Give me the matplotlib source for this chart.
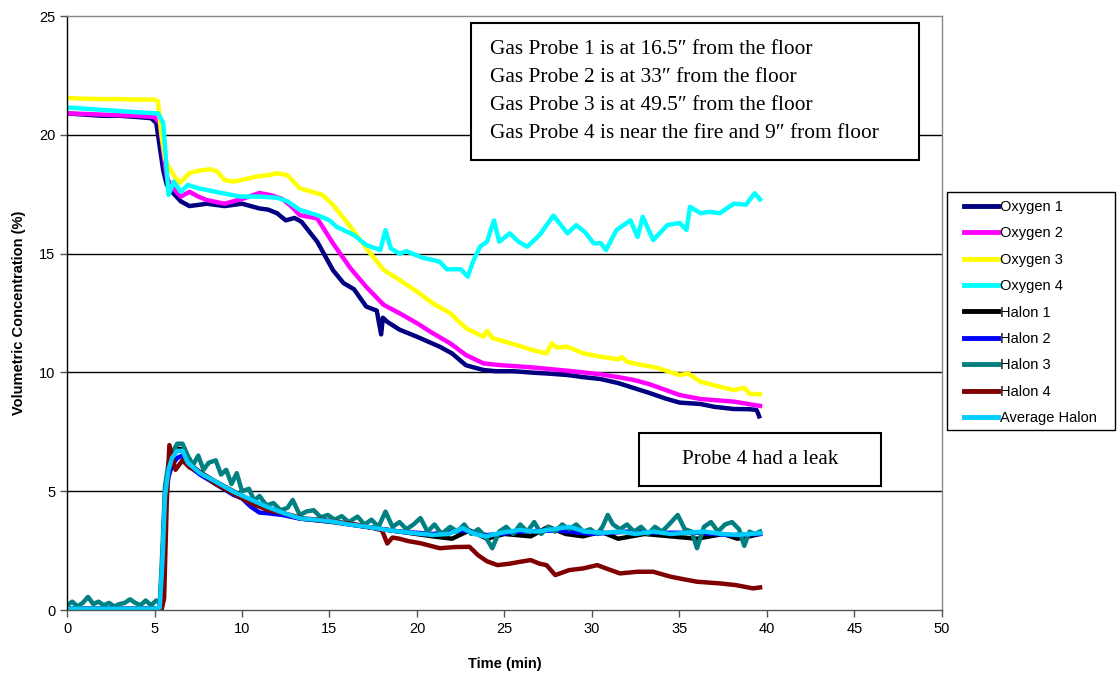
import matplotlib
matplotlib.use("Agg")
import matplotlib.pyplot as plt
from matplotlib.patches import Rectangle

plt.rcParams['font.family'] = ['Liberation Sans', 'DejaVu Sans']

# --- data (time in min, concentration in %) ---
o1_t = [0, 1, 2, 3, 4, 4.8, 5.1, 5.3, 5.5, 5.7, 6.0, 6.5, 7.0, 7.5, 8.0, 9.0, 10.0, 11.0, 11.5, 12.0,
        12.5, 13.0, 13.4, 14.3, 15.2, 15.8, 16.4, 17.1, 17.7, 17.95, 18.05, 18.3, 19.0, 20.0, 21.3, 22.0,
        22.8, 23.8, 24.5, 25.5, 26.6, 27.5, 28.6, 29.5, 30.5, 31.5, 32.4, 33.3, 34.2, 35.0, 36.2, 37.0,
        38.1, 39.0, 39.4, 39.5, 39.55]
o1_v = [20.9, 20.85, 20.8, 20.8, 20.75, 20.7, 20.5, 19.5, 18.5, 17.9, 17.6, 17.2, 17.0, 17.05, 17.1, 17.0,
        17.1, 16.9, 16.85, 16.7, 16.4, 16.5, 16.34, 15.5, 14.3, 13.76, 13.5, 12.77, 12.6, 11.6, 12.3, 12.13,
        11.8, 11.5, 11.08, 10.8, 10.3, 10.1, 10.05, 10.05, 9.99, 9.95, 9.89, 9.8, 9.72, 9.55, 9.34, 9.13,
        8.9, 8.73, 8.67, 8.55, 8.46, 8.45, 8.42, 8.25, 8.15]

o2_t = [0, 1, 2, 3, 4, 5.0, 5.3, 5.5, 5.7, 6.0, 6.5, 7.0, 7.5, 8.0, 9.0, 10.0, 11.0, 11.7, 12.3, 12.8,
        13.3, 14.3, 15.2, 16.2, 17.1, 18.1, 19.0, 20.0, 20.9, 21.9, 22.8, 23.8, 24.7, 26.6, 28.6, 30.5,
        31.5, 32.4, 33.3, 35.0, 36.2, 38.1, 39.6]
o2_v = [20.9, 20.88, 20.85, 20.82, 20.8, 20.75, 20.5, 19.3, 18.2, 17.8, 17.4, 17.6, 17.4, 17.25, 17.1,
        17.3, 17.55, 17.45, 17.3, 17.0, 16.62, 16.48, 15.43, 14.38, 13.6, 12.84, 12.49, 12.07, 11.65,
        11.22, 10.73, 10.38, 10.31, 10.21, 10.07, 9.92, 9.8, 9.68, 9.5, 9.05, 8.88, 8.77, 8.59]

o3_t = [0, 1, 2, 3, 4, 5.0, 5.2, 5.4, 5.6, 5.8, 6.2, 6.46, 7.0, 7.6, 8.2, 8.6, 9.0, 9.5, 10.0, 10.8,
        11.5, 12.0, 12.6, 13.3, 14.0, 14.6, 15.2, 16.2, 17.1, 18.1, 19.0, 20.0, 20.9, 21.9, 22.8, 23.8,
        24.0, 24.3, 24.7, 25.7, 26.6, 27.4, 27.7, 28.0, 28.6, 29.5, 30.5, 31.5, 31.7, 32.0, 32.4, 33.3,
        33.7, 35.0, 35.5, 36.2, 37.0, 38.1, 38.7, 39.0, 39.6]
o3_v = [21.55, 21.52, 21.5, 21.5, 21.48, 21.48, 21.4, 20.0, 19.0, 18.66, 18.2, 17.98, 18.39, 18.5, 18.55,
        18.45, 18.1, 18.03, 18.1, 18.24, 18.3, 18.38, 18.3, 17.75, 17.6, 17.47, 17.05, 16.13, 15.22, 14.31,
        13.89, 13.4, 12.91, 12.49, 11.86, 11.5, 11.75, 11.45, 11.36, 11.15, 10.94, 10.8, 11.22, 11.05,
        11.08, 10.8, 10.66, 10.55, 10.65, 10.45, 10.38, 10.25, 10.2, 9.89, 9.95, 9.61, 9.45, 9.26, 9.35,
        9.1, 9.08]

o4_t = [0, 1, 2, 3, 4, 5.2, 5.5, 5.7, 5.8, 6.1, 6.5, 6.9, 7.5, 8.5, 9.2, 9.9, 11.0, 12.0, 12.6, 13.3,
        14.3, 15.0, 15.4, 16.4, 17.1, 17.9, 18.2, 18.5, 19.0, 19.4, 20.3, 21.3, 21.7, 22.5, 22.9, 23.2,
        23.6, 24.0, 24.4, 24.7, 25.3, 25.8, 26.3, 27.0, 27.8, 28.6, 29.1, 29.6, 30.1, 30.5, 30.8, 31.4,
        31.8, 32.2, 32.6, 32.9, 33.5, 34.3, 35.0, 35.4, 35.6, 36.2, 36.7, 37.3, 38.1, 38.8, 39.3, 39.6]
o4_v = [21.15, 21.1, 21.05, 21.0, 20.95, 20.9, 20.5, 18.5, 17.47, 18.03, 17.6, 17.89, 17.75, 17.6, 17.5,
        17.4, 17.4, 17.35, 17.2, 16.84, 16.62, 16.4, 16.13, 15.78, 15.36, 15.15, 15.99, 15.22, 15.0, 15.1,
        14.83, 14.66, 14.34, 14.34, 14.03, 14.66, 15.29, 15.5, 16.4, 15.5, 15.85, 15.5, 15.29, 15.78, 16.6,
        15.85, 16.2, 15.9, 15.43, 15.44, 15.15, 15.99, 16.2, 16.4, 15.7, 16.55, 15.57, 16.2, 16.29, 16.0,
        16.97, 16.7, 16.76, 16.7, 17.1, 17.06, 17.54, 17.28]

h1_t = [0, 5.3, 5.45, 5.6, 5.8, 6.0, 6.3, 6.6, 6.9, 7.6, 8.5, 9.5, 10.5, 11.4, 12.3, 13.3, 15.2, 17.1,
        19.0, 20.9, 22.0, 23.0, 24.0, 25.0, 26.5, 27.5, 28.5, 29.5, 30.5, 31.5, 33.0, 34.5, 36.0, 37.5,
        38.3, 39.0, 39.6]
h1_v = [0.05, 0.05, 2.0, 4.8, 6.0, 6.5, 6.8, 6.75, 6.2, 5.8, 5.4, 5.0, 4.6, 4.3, 4.05, 3.85, 3.7, 3.5,
        3.3, 3.1, 3.0, 3.35, 3.0, 3.2, 3.1, 3.5, 3.2, 3.1, 3.3, 3.0, 3.2, 3.1, 3.0, 3.2, 3.0, 3.1, 3.2]

h2_t = [0, 5.3, 5.45, 5.6, 5.8, 6.0, 6.3, 6.6, 6.9, 7.6, 8.5, 9.5, 10.0, 10.5, 11.0, 11.5, 12.3, 13.3,
        15.2, 17.1, 19.0, 20.9, 22.6, 24.0, 26.0, 28.0, 30.0, 32.0, 34.0, 36.0, 38.0, 39.6]
h2_v = [0.05, 0.05, 1.8, 4.5, 5.6, 6.1, 6.4, 6.5, 6.1, 5.7, 5.3, 4.85, 4.7, 4.35, 4.1, 4.07, 4.0, 3.85,
        3.72, 3.5, 3.3, 3.2, 3.35, 3.15, 3.3, 3.35, 3.2, 3.3, 3.25, 3.25, 3.15, 3.2]

h3_t = [0, 0.3, 0.6, 0.9, 1.2, 1.5, 1.8, 2.1, 2.4, 2.7, 3.0, 3.3, 3.6, 3.9, 4.2, 4.5, 4.8, 5.1, 5.3,
        5.45, 5.6, 5.8, 6.0, 6.3, 6.6, 6.9, 7.2, 7.5, 7.8, 8.1, 8.5, 8.8, 9.1, 9.4, 9.7, 10.0, 10.4, 10.7,
        11.0, 11.4, 11.8, 12.2, 12.6, 12.9, 13.3, 13.7, 14.1, 14.5, 14.9, 15.3, 15.7, 16.1, 16.6, 17.0,
        17.4, 17.8, 18.2, 18.6, 19.0, 19.4, 19.8, 20.2, 20.6, 21.0, 21.4, 21.9, 22.3, 22.7, 23.1, 23.5,
        23.9, 24.3, 24.7, 25.1, 25.5, 25.9, 26.3, 26.7, 27.1, 27.5, 27.9, 28.3, 28.7, 29.1, 29.5, 29.9,
        30.3, 30.6, 30.9, 31.2, 31.6, 32.0, 32.4, 32.8, 33.2, 33.6, 34.0, 34.4, 34.9, 35.3, 35.7, 36.0,
        36.4, 36.8, 37.2, 37.6, 38.0, 38.4, 38.7, 39.0, 39.3, 39.6]
h3_v = [0.2, 0.35, 0.15, 0.3, 0.55, 0.25, 0.35, 0.2, 0.3, 0.15, 0.25, 0.3, 0.45, 0.3, 0.2, 0.4, 0.2, 0.4,
        0.3, 2.5, 5.2, 6.2, 6.6, 7.0, 7.0, 6.5, 6.1, 6.5, 5.9, 6.2, 6.3, 5.7, 5.9, 5.3, 5.76, 5.0, 5.1, 4.6,
        4.8, 4.4, 4.5, 4.2, 4.3, 4.63, 4.0, 4.15, 4.2, 3.9, 4.0, 3.8, 3.95, 3.7, 3.93, 3.6, 3.8, 3.5, 4.14,
        3.5, 3.7, 3.4, 3.6, 3.87, 3.3, 3.6, 3.2, 3.5, 3.3, 3.6, 3.2, 3.4, 3.1, 2.6, 3.3, 3.5, 3.2, 3.6,
        3.3, 3.7, 3.2, 3.5, 3.3, 3.6, 3.4, 3.6, 3.3, 3.4, 3.2, 3.5, 4.0, 3.6, 3.4, 3.6, 3.3, 3.5, 3.2, 3.5,
        3.3, 3.6, 4.0, 3.4, 3.3, 2.6, 3.5, 3.7, 3.3, 3.6, 3.7, 3.4, 2.7, 3.3, 3.2, 3.3]

h4_t = [0, 1, 2, 3, 4, 5, 5.4, 5.55, 5.7, 5.85, 6.2, 6.6, 7.0, 7.6, 8.5, 9.5, 10.5, 11.5, 12.5, 13.5,
        14.5, 15.5, 16.5, 17.5, 18.0, 18.3, 18.6, 19.0, 19.5, 20.2, 21.3, 22.2, 23.0, 23.5, 24.0, 24.6,
        25.3, 25.9, 26.5, 27.0, 27.4, 27.9, 28.7, 29.5, 30.3, 30.8, 31.6, 32.6, 33.5, 34.5, 35.2, 36.0,
        37.3, 38.2, 39.2, 39.6]
h4_v = [0, 0, 0, 0, 0, 0, 0, 0.5, 4.5, 6.94, 5.9, 6.3, 6.0, 5.8, 5.3, 4.9, 4.5, 4.2, 4.05, 3.85, 3.8,
        3.7, 3.6, 3.45, 3.35, 2.8, 3.05, 3.0, 2.9, 2.81, 2.6, 2.65, 2.66, 2.3, 2.05, 1.89, 1.95, 2.03, 2.1,
        1.95, 1.89, 1.47, 1.68, 1.75, 1.89, 1.75, 1.54, 1.61, 1.61, 1.4, 1.3, 1.19, 1.12, 1.05, 0.91, 0.95]

avg_t = [0, 0.5, 1, 1.5, 2, 2.5, 3, 3.5, 4, 4.5, 5, 5.3, 5.45, 5.6, 5.8, 6.0, 6.3, 6.6, 6.9, 7.6, 8.5,
         9.5, 10.5, 11.4, 12.3, 13.3, 14.2, 15.2, 16.1, 17.1, 18.0, 19.0, 20.0, 20.9, 21.8, 22.6, 23.3,
         23.9, 24.8, 25.9, 26.8, 27.8, 28.7, 29.6, 30.6, 31.6, 32.5, 33.5, 34.5, 35.4, 36.4, 37.4, 38.3,
         39.0, 39.6]
avg_v = [0.05, 0.05, 0.05, 0.05, 0.05, 0.05, 0.05, 0.05, 0.05, 0.05, 0.05, 0.1, 2.0, 4.8, 5.9, 6.4, 6.7,
         6.7, 6.2, 5.76, 5.4, 4.98, 4.65, 4.35, 4.1, 3.86, 3.8, 3.72, 3.6, 3.51, 3.4, 3.3, 3.22, 3.16, 3.2,
         3.44, 3.2, 3.09, 3.25, 3.37, 3.3, 3.4, 3.5, 3.3, 3.25, 3.3, 3.2, 3.3, 3.2, 3.25, 3.3, 3.2, 3.16,
         3.2, 3.23]

labels = ['Oxygen 1', 'Oxygen 2', 'Oxygen 3', 'Oxygen 4', 'Halon 1', 'Halon 2', 'Halon 3', 'Halon 4',
          'Average Halon']
colors = ['#000080', '#FF00FF', '#FFFF00', '#00FFFF', '#000000', '#0000FF', '#008080', '#800000',
          '#00CCFF']
series = [(o1_t, o1_v), (o2_t, o2_v), (o3_t, o3_v), (o4_t, o4_v), (h1_t, h1_v), (h2_t, h2_v),
          (h3_t, h3_v), (h4_t, h4_v), (avg_t, avg_v)]

notes = ['Gas Probe 1 is at 16.5\u2033 from the floor',
         'Gas Probe 2 is at 33\u2033 from the floor',
         'Gas Probe 3 is at 49.5\u2033 from the floor',
         'Gas Probe 4 is near the fire and 9\u2033 from floor']
leak_note = 'Probe 4 had a leak'

W, H = 1117, 675
fig = plt.figure(figsize=(W / 100, H / 100), dpi=100)
ax = fig.add_axes([67 / W, 1 - 610 / H, (942 - 67) / W, (610 - 16) / H])

for (t, v), c, lab in zip(series, colors, labels):
    ax.plot(t, v, color=c, lw=3.2, label=lab, solid_joinstyle='round')

ax.set_xlim(0, 50)
ax.set_ylim(0, 25)
ax.set_xticks(range(0, 51, 5))
ax.set_yticks(range(0, 26, 5))
for yv in [5, 10, 15, 20]:
    ax.axhline(yv, color='black', lw=1, zorder=0)
ax.tick_params(direction='out', length=5, labelsize=10.5, width=1, color='#555555')
ax.spines['left'].set_color('black')
ax.spines['bottom'].set_color('#555555')
ax.spines['top'].set_color('#888888')
ax.spines['right'].set_color('#888888')
for s in ax.spines.values():
    s.set_linewidth(1)

ax.set_xlabel('Time (min)', fontsize=10.5, fontweight='bold', labelpad=15)
ax.set_ylabel('Volumetric Concentration (%)', fontsize=10.5, fontweight='bold', labelpad=9)

# legend: no own frame, a separate box drawn around it
leg = ax.legend(loc='upper left', bbox_to_anchor=(964 / W, 1 - 200 / H), bbox_transform=fig.transFigure,
                frameon=False, fontsize=10.5, handlelength=2.3, handletextpad=0.2,
                labelspacing=0.85, borderpad=0, borderaxespad=0)
for hl in leg.get_lines():
    hl.set_linewidth(3.5)
fig.patches.append(Rectangle((947 / W, 1 - 430 / H), 168 / W, 238 / H, transform=fig.transFigure,
                             facecolor='none', edgecolor='black', lw=1))

# probe location note
fig.patches.append(Rectangle((471 / W, 1 - 160 / H), 448 / W, 137 / H, transform=fig.transFigure,
                             facecolor='white', edgecolor='black', lw=1.5, zorder=5))
for i, line in enumerate(notes):
    fig.text(490 / W, 1 - (49 + i * 28.2) / H, line, fontsize=15.4, family='Liberation Serif',
             va='center', ha='left', zorder=6)

# leak note
fig.patches.append(Rectangle((639 / W, 1 - 486 / H), 242 / W, 53 / H, transform=fig.transFigure,
                             facecolor='white', edgecolor='black', lw=1.5, zorder=5))
fig.text(760 / W, 1 - 459 / H, leak_note, fontsize=15.2, family='Liberation Serif', va='center',
         ha='center', zorder=6)

fig.savefig('out.png', dpi=100)
